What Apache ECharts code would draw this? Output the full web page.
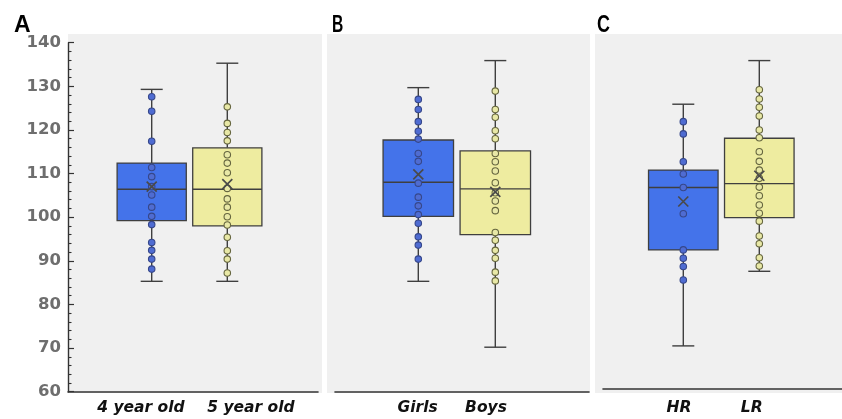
<!DOCTYPE html>
<html>
<head>
<meta charset="utf-8">
<script src="https://cdn.jsdelivr.net/npm/echarts@6/dist/echarts.min.js"></script>
<style>
  html, body { margin: 0; padding: 0; background: #ffffff; }
  #chart { width: 842px; height: 419px; }
</style>
</head>
<body>
<div id="chart"></div>
<script>
// ---- Data -------------------------------------------------------------
const panelLetters = ['A', 'B', 'C'];

const groupsA = ['4 year old', '5 year old'];
const groupsB = ['Girls', 'Boys'];
const groupsC = ['HR', 'LR'];

// Box statistics per group: [min, Q1, median, Q3, max]
const boxA = [[85.3, 99.2, 106.4, 112.4, 129.3], [85.3, 98.0, 106.4, 115.9, 135.3]];
const boxB = [[85.3, 100.2, 108.0, 117.7, 129.7], [70.2, 96.0, 106.5, 115.2, 135.9]];
const boxC = [[70.5, 92.5, 106.8, 110.8, 125.9], [87.6, 99.9, 107.7, 118.1, 135.9]];

// Group means (drawn as a cross)
const meanA = [107.0, 107.6];
const meanB = [109.8, 105.8];
const meanC = [103.6, 109.5];

// Individual observations
const pointsA1 = [127.6, 124.3, 117.4, 111.4, 109.3, 107.0, 105.1, 102.3, 100.2, 98.3, 94.2, 92.4, 90.4, 88.1];
const pointsA2 = [125.3, 121.5, 119.4, 117.5, 114.3, 112.4, 110.2, 106.6, 104.2, 102.3, 100.1, 98.2, 95.4, 92.3, 90.4, 87.2];
const pointsB1 = [127.0, 124.7, 121.9, 119.7, 117.9, 114.6, 112.8, 107.8, 104.6, 102.6, 100.6, 98.6, 95.5, 93.6, 90.4];
const pointsB2 = [128.9, 124.7, 122.9, 119.8, 118.0, 114.6, 112.7, 110.6, 107.9, 105.6, 103.7, 101.5, 96.5, 94.7, 92.4, 90.6, 87.4, 85.4];
const pointsC1 = [121.9, 119.1, 112.7, 109.9, 106.8, 100.8, 92.5, 90.6, 88.7, 85.6];
const pointsC2 = [129.2, 127.1, 125.2, 123.2, 120.0, 118.2, 115.0, 112.8, 110.8, 108.9, 106.9, 104.9, 102.8, 100.9, 99.1, 95.7, 93.9, 90.7, 88.8];

// Value axis ticks
const yTicks = [60, 70, 80, 90, 100, 110, 120, 130, 140];

// ---- Layout & style -----------------------------------------------------
const panelData = [
  { groups: groupsA, box: boxA, mean: meanA, points: [pointsA1, pointsA2] },
  { groups: groupsB, box: boxB, mean: meanB, points: [pointsB1, pointsB2] },
  { groups: groupsC, box: boxC, mean: meanC, points: [pointsC1, pointsC2] }
];

// Pixel layout of each panel: plot span, first box centre, box spacing,
// label nudges, panel backdrop span and letter position
const panelLayout = [
  { left: 68,  right: 318, center0: 151.7, step: 75.6, labelShift: [-10.7, 23.7], axisOffset: 0,  showY: true,
    bg: [68, 322],  letterX: 14,  letterScale: 1.0 },
  { left: 335, right: 589, center0: 418.3, step: 77.0, labelShift: [-0.7, -9.3],  axisOffset: 0,  showY: false,
    bg: [327, 590], letterX: 332, letterScale: 0.68 },
  { left: 603, right: 842, center0: 683.3, step: 76.0, labelShift: [-4.3, -7.6],  axisOffset: -3, showY: false,
    bg: [595, 842], letterX: 597, letterScale: 0.78 }
];

const GRID_TOP = 42.7;
const GRID_HEIGHT = 349;
const LABEL_MARGIN = 8.5;
const BOX_RATIO = 0.915;
const CAP_WIDTH = 22;
const EDGE = '#3f3f3f';
const BOX_FILLS = ['#4473ea', '#eeeca0'];
const POINT_FILLS = ['#4f6cd2', '#e8e8a6'];
const POINT_EDGES = ['#36478a', '#66663f'];
const PANEL_BG = '#f0f0f0';

// ---- Build option -------------------------------------------------------
function renderBox(params, api) {
  const idx = api.value(0);
  const lo = api.coord([idx, api.value(1)]);
  const q1 = api.coord([idx, api.value(2)]);
  const md = api.coord([idx, api.value(3)]);
  const q3 = api.coord([idx, api.value(4)]);
  const hi = api.coord([idx, api.value(5)]);
  const bw = api.size([1, 0])[0] * BOX_RATIO;
  const x = lo[0];
  const half = CAP_WIDTH / 2;
  const lineStyle = { stroke: EDGE, lineWidth: 1.4 };
  return {
    type: 'group',
    children: [
      { type: 'line', shape: { x1: x, y1: hi[1], x2: x, y2: q3[1] }, style: lineStyle },
      { type: 'line', shape: { x1: x, y1: q1[1], x2: x, y2: lo[1] }, style: lineStyle },
      { type: 'line', shape: { x1: x - half, y1: hi[1], x2: x + half, y2: hi[1] }, style: lineStyle },
      { type: 'line', shape: { x1: x - half, y1: lo[1], x2: x + half, y2: lo[1] }, style: lineStyle },
      { type: 'rect', shape: { x: x - bw / 2, y: q3[1], width: bw, height: q1[1] - q3[1] },
        style: { fill: BOX_FILLS[idx], stroke: EDGE, lineWidth: 1.3 } },
      { type: 'line', shape: { x1: x - bw / 2, y1: md[1], x2: x + bw / 2, y2: md[1] }, style: lineStyle }
    ]
  };
}

const grids = [], xAxes = [], yAxes = [], series = [], graphics = [];

panelLayout.forEach((lay, p) => {
  const d = panelData[p];
  grids.push({ left: lay.left, top: GRID_TOP, width: lay.right - lay.left, height: GRID_HEIGHT });

  const xMin = -(lay.center0 - lay.left) / lay.step;
  const xMax = 1 + (lay.right - (lay.center0 + lay.step)) / lay.step;
  const labelAt = d.groups.map((g, i) => i + lay.labelShift[i] / lay.step);
  xAxes.push({
    gridIndex: p, type: 'value', min: xMin, max: xMax, offset: lay.axisOffset,
    axisLine: { show: true, onZero: false, lineStyle: { color: '#333333', width: 1.6 } },
    axisTick: { show: false },
    splitLine: { show: false },
    axisLabel: {
      show: true,
      customValues: labelAt,
      formatter: function (v) {
        const i = Math.max(0, Math.min(d.groups.length - 1, Math.round(v)));
        return d.groups[i];
      },
      // keep all group labels on one baseline even where the axis line sits higher
      margin: LABEL_MARGIN - lay.axisOffset,
      color: '#111111',
      fontFamily: 'DejaVu Sans',
      fontWeight: 'bold',
      fontStyle: 'italic',
      fontSize: 15.5
    }
  });

  yAxes.push({
    gridIndex: p, type: 'value', show: lay.showY,
    min: yTicks[0], max: yTicks[yTicks.length - 1], interval: yTicks[1] - yTicks[0],
    axisLine: { show: true, onZero: false, lineStyle: { color: '#333333', width: 1.4 } },
    axisTick: { show: true, inside: true, length: 6, lineStyle: { color: '#333333', width: 1.2 } },
    minorTick: { show: true, splitNumber: 5, length: 3.5, lineStyle: { color: '#333333', width: 1.1 } },
    splitLine: { show: false },
    axisLabel: {
      margin: 7, color: '#6e6e6e', fontFamily: 'DejaVu Sans', fontWeight: 'bold', fontSize: 16.5
    }
  });

  series.push({
    type: 'custom', xAxisIndex: p, yAxisIndex: p, z: 2,
    renderItem: renderBox,
    encode: { x: 0, y: [1, 2, 3, 4, 5] },
    data: d.box.map((b, i) => [i].concat(b)),
    silent: true
  });

  d.points.forEach((pts, i) => {
    series.push({
      type: 'scatter', xAxisIndex: p, yAxisIndex: p, z: 3,
      symbol: 'circle', symbolSize: 6.5,
      itemStyle: { color: POINT_FILLS[i], borderColor: POINT_EDGES[i], borderWidth: 1.1, opacity: 1 },
      data: pts.map(v => [i, v]),
      silent: true
    });
  });

  series.push({
    type: 'scatter', xAxisIndex: p, yAxisIndex: p, z: 4,
    symbol: 'path://M0,0L10,10M10,0L0,10', symbolSize: 10,
    itemStyle: { color: 'rgba(0,0,0,0)', borderColor: '#4a4a4a', borderWidth: 1.7, opacity: 1 },
    data: d.mean.map((m, i) => [i, m]),
    silent: true
  });

  // Panel backdrop
  graphics.push({
    type: 'rect', z: -10, silent: true,
    shape: { x: lay.bg[0], y: 34, width: lay.bg[1] - lay.bg[0], height: 359 },
    style: { fill: PANEL_BG }
  });
  // Panel letter
  graphics.push({
    type: 'text', z: 10, silent: true,
    x: lay.letterX, y: 14, scaleX: lay.letterScale,
    style: { text: panelLetters[p], fill: '#000000', font: 'bold 23px "Liberation Sans"' }
  });
});

const chart = echarts.init(document.getElementById('chart'), null, { renderer: 'canvas' });
chart.setOption({
  animation: false,
  backgroundColor: '#ffffff',
  grid: grids,
  xAxis: xAxes,
  yAxis: yAxes,
  graphic: { elements: graphics },
  series: series
});
</script>
</body>
</html>
